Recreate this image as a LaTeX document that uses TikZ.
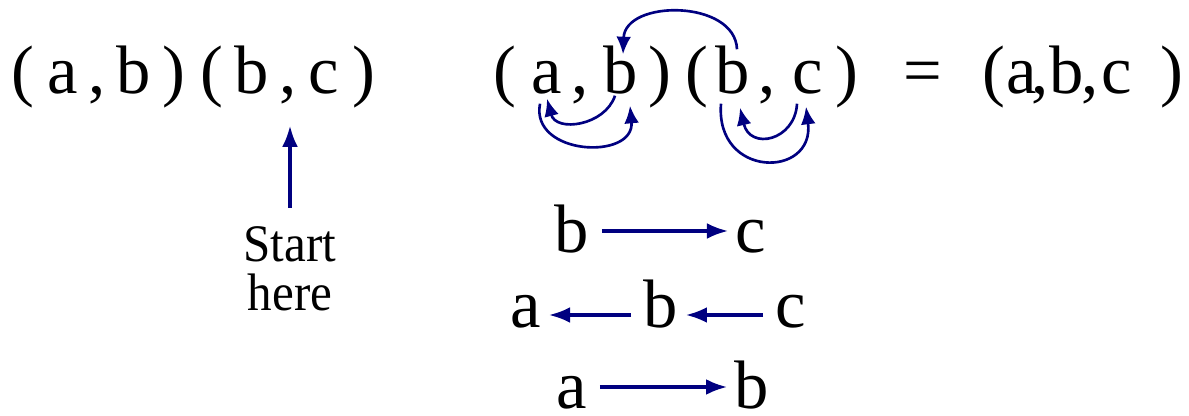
\documentclass[tikz,border=0pt]{standalone}
\usepackage{fontspec}
\setmainfont{Liberation Serif}
\newfontfamily\narrowserif[FakeStretch=0.93]{Liberation Serif}
\usetikzlibrary{arrows.meta,calc}
\definecolor{chainblue}{RGB}{0,0,128}
\tikzset{
  glyph/.style={inner sep=0pt, anchor=base, text height=0.45cm, text depth=0.03cm,
                font=\fontsize{19.5}{23}\selectfont},
  linkarrow/.style={draw=chainblue, line width=0.9pt, -{Latex[length=6pt,width=4.5pt]},
                    shorten <=0.12cm, shorten >=0.07cm},
  looparrow/.style={draw=chainblue, line width=0.75pt, -{Latex[length=5pt,width=4.2pt]}},
}
\begin{document}
\begin{tikzpicture}[x=0.01cm, y=-0.01cm]
  \useasboundingbox (0,0) rectangle (1189,415);

  % the two pairs, left
  \foreach \gx/\gt/\gn in {23/{(}/lp1, 63/a/la, 97/{,}/lk1, 134/b/lb1, 174/{)}/lq1,
                           212/{(}/lp2, 252/b/lb2, 288/{,}/lk2, 324/c/lc, 364/{)}/lq2} {
    \node[glyph] (\gn) at (\gx,93) {\gt};
  }
  \node[font=\narrowserif\fontsize{15}{14}\selectfont, align=center, inner sep=0pt,
        anchor=north] (start) at (290,226) {Start\\here};
  \draw[linkarrow, shorten <=0.18cm, shorten >=0.29cm] (start.north) -- (start.north |- lk2.south);

  % the two pairs, joined
  \foreach \gx/\gt/\gn in {505/{(}/mp1, 547/a/ma, 580/{,}/mk1, 621/b/mb1, 660/{)}/mq1,
                           697/{(}/mp2, 733/b/mb2, 767/{,}/mk2, 808/c/mc, 847/{)}/mq2,
                           923/{=}/eq, 994/{(}/rp, 1022/a/ra, 1040/{,}/rk1, 1067/b/rb,
                           1090/{,}/rk2, 1117/c/rc, 1172/{)}/rq} {
    \node[glyph] (\gn) at (\gx,93) {\gt};
  }
  \draw[looparrow] ($(mb2.north)+(4,2)$) .. controls +(-2,-50) and +(2,-55) .. ($(mb1.north)+(2,7)$);
  \draw[looparrow] ($(mb1.south)+(-6,-1)$) .. controls +(-10,30) and +(9,34) .. ($(ma.south)+(0,2)$);
  \draw[looparrow] ($(ma.south)+(-7,7)$) .. controls +(-10,52) and +(5,55) .. ($(mb1.south)+(9,9)$);
  \draw[looparrow] ($(mb2.south)+(-12,7)$) .. controls +(-6,75) and +(9,72) .. ($(mc.south)+(-2,10)$);
  \draw[looparrow] ($(mc.south)+(-11,7)$) .. controls +(-2,37) and +(10,43) .. ($(mb2.south)+(7,11)$);

  % chains
  \node[glyph] (ub) at (572,252) {b};
  \node[glyph] (uc) at (751,252) {c};
  \node[glyph] (va) at (526,327) {a};
  \node[glyph] (vb) at (661,327) {b};
  \node[glyph] (vc) at (791,327) {c};
  \node[glyph] (wa) at (572,408) {a};
  \node[glyph] (wb) at (752,408) {b};
  \draw[linkarrow] (ub.east) -- (uc.west);
  \draw[linkarrow] ([yshift=-0.09cm]vb.west) -- ([yshift=-0.09cm]va.east);
  \draw[linkarrow] ([yshift=-0.09cm]vc.west) -- ([yshift=-0.09cm]vb.east);
  \draw[linkarrow] (wa.east) -- (wb.west);
\end{tikzpicture}
\end{document}
